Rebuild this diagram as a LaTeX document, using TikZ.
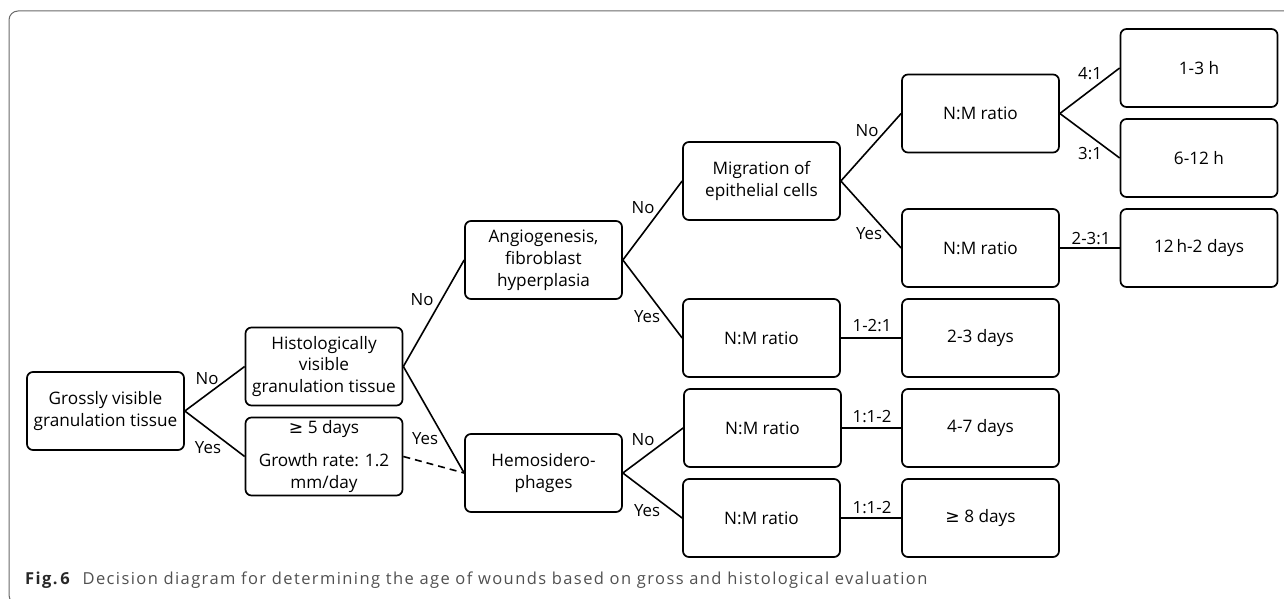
\documentclass[tikz,border=0pt]{standalone}
\usepackage{fontspec}
\setmainfont{Open Sans}
\newfontfamily\symfont{DejaVu Sans}
\newfontfamily\capfont[LetterSpace=8.5]{Open Sans}
\definecolor{framegray}{RGB}{105,105,105}
\definecolor{capgray}{RGB}{80,80,80}
\definecolor{capdark}{RGB}{40,40,40}
\begin{document}
\begin{tikzpicture}[x=1pt,y=-1pt,
  box/.style={draw, line width=1.7pt, rounded corners=6pt, minimum width=157pt,
    minimum height=78pt, align=center, inner sep=0pt,
    font=\fontsize{17.2}{21.8}\selectfont},
  lbl/.style={inner sep=0pt, font=\fontsize{16.8}{19}\selectfont},
  conn/.style={line width=1.6pt},
  frame/.style={draw=framegray, line width=1pt, rounded corners=9pt},
]
\useasboundingbox (0,0) rectangle (1284,599);
% frame
\draw[frame] (1300,11) -- (9,11) -- (9,604) -- (40,604);
% nodes
\node[box] (g) at (105.5,411) {Grossly visible\\granulation tissue};
\node[box] (h) at (324,366.5) {Histologically\\visible\\granulation tissue};
\node[box] (f) at (324,456.5) {{\symfont ≥} 5 days\\[11pt]Growth rate: 1.2\\mm/day};
\node[box] (a) at (543.5,260) {Angiogenesis,\\fibroblast\\hyperplasia};
\node[box] (hm) at (543.5,473) {Hemosidero-\\phages};
\node[box] (m) at (761.5,181) {Migration of\\epithelial cells};
\node[box] (r1) at (761.5,338) {N:M ratio};
\node[box] (r3) at (762.5,428) {N:M ratio};
\node[box] (r4) at (761.5,518) {N:M ratio};
\node[box] (rt) at (980.5,113.5) {N:M ratio};
\node[box] (ry) at (980.5,248) {N:M ratio};
\node[box] (d23) at (980.5,338) {2-3 days};
\node[box] (d47) at (980.5,428) {4-7 days};
\node[box] (d8) at (980.5,518) {{\symfont ≥} 8 days};
\node[box] (h13) at (1199,68) {1-3 h};
\node[box] (h612) at (1199,158) {6-12 h};
\node[box] (h12) at (1199,248) {12\,h-2 days};
% connectors
\draw[conn] (g.east) -- (h.west);
\draw[conn] (g.east) -- (f.west);
\draw[conn] (h.east) -- (a.west);
\draw[conn] (h.east) -- (hm.west);
\draw[conn, dash pattern=on 7pt off 5pt] (f.east) -- (hm.west);
\draw[conn] (a.east) -- (m.west);
\draw[conn] (a.east) -- (r1.west);
\draw[conn] (hm.east) -- (r3.west);
\draw[conn] (hm.east) -- (r4.west);
\draw[conn] (m.east) -- (rt.west);
\draw[conn] (m.east) -- (ry.west);
\draw[conn] (rt.east) -- (h13.west);
\draw[conn] (rt.east) -- (h612.west);
\draw[conn] (ry.east) -- (h12.west);
\draw[conn] (r1.east) -- (d23.west);
\draw[conn] (r3.east) -- (d47.west);
\draw[conn] (r4.east) -- (d8.west);
% labels
\node[lbl] (l1) at (207,379) {No};
\node[lbl] (l2) at (208,448) {Yes};
\node[lbl] (l3) at (422,300) {No};
\node[lbl] (l4) at (425,439) {Yes};
\node[lbl] (l5) at (643,208) {No};
\node[lbl] (l6) at (647,317) {Yes};
\node[lbl] (l7) at (643,440) {No};
\node[lbl] (l8) at (647,511) {Yes};
\node[lbl] (l9) at (867,131) {No};
\node[lbl] (l10) at (869,234) {Yes};
\node[lbl] (l11) at (1090,74) {4:1};
\node[lbl] (l12) at (1090,154) {3:1};
\node[lbl] (l13) at (1091,239) {2-3:1};
\node[lbl] (l14) at (872,326) {1-2:1};
\node[lbl] (l15) at (872,417) {1:1-2};
\node[lbl] (l16) at (872,508) {1:1-2};
% caption
\node[anchor=base west, inner sep=0pt, text=capgray] (cap) at (25,584)
  {\capfont\fontsize{16.5}{19}\selectfont\textcolor{capdark}{\textbf{Fig.\,6}}\hspace{0.7em}Decision diagram for determining the age of wounds based on gross and histological evaluation};
\end{tikzpicture}
\end{document}
